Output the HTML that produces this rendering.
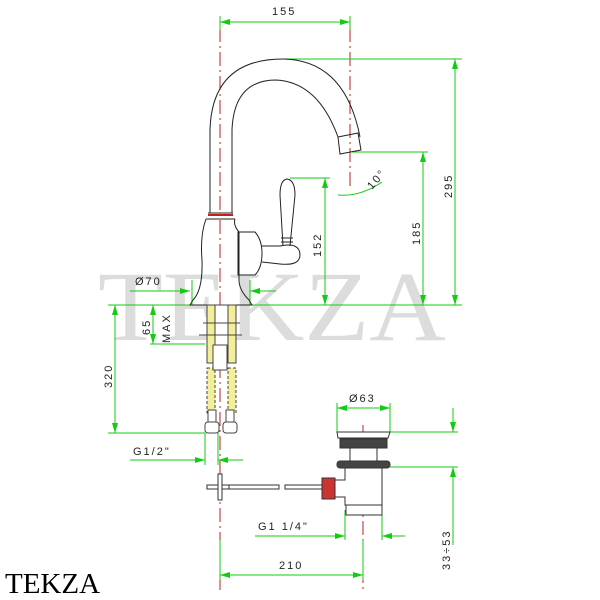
<!DOCTYPE html>
<html><head><style>
html,body{margin:0;padding:0;background:#fff;width:600px;height:600px;overflow:hidden}
svg{display:block}
text{font-family:"Liberation Sans",sans-serif;font-size:11px;fill:#222;letter-spacing:2px}
</style></head><body>
<svg width="600" height="600" viewBox="0 0 600 600">
<defs>
<marker id="a" viewBox="0 0 10 6" refX="10" refY="3" markerWidth="10" markerHeight="6" orient="auto-start-reverse"><path d="M0,0L10,3L0,6z" fill="#1c1"/></marker>
</defs>
<text x="98" y="340" textLength="348" lengthAdjust="spacingAndGlyphs" style="font-family:'Liberation Serif',serif;font-size:100px;fill:#dcdcdc;letter-spacing:0">TEKZA</text>
<g stroke="#b22" stroke-width="1" stroke-dasharray="14,4,2,4" fill="none">
<line x1="220" y1="28" x2="220" y2="590"/>
<line x1="350" y1="28" x2="350" y2="190"/>
<line x1="363" y1="425" x2="363" y2="590"/>
</g>
<g stroke="#1c1" stroke-width="1" fill="none">
<line x1="220" y1="22" x2="350" y2="22" marker-start="url(#a)" marker-end="url(#a)"/>
<line x1="220" y1="16" x2="220" y2="30"/><line x1="350" y1="16" x2="350" y2="30"/>
<line x1="283" y1="59" x2="462" y2="59"/>
<line x1="455" y1="59" x2="455" y2="305" marker-start="url(#a)" marker-end="url(#a)"/>
<line x1="180" y1="305" x2="462" y2="305"/>
<line x1="352" y1="152" x2="428" y2="152"/>
<line x1="423" y1="152" x2="423" y2="305" marker-start="url(#a)" marker-end="url(#a)"/>
<line x1="290" y1="178" x2="330" y2="178"/>
<line x1="325" y1="178" x2="325" y2="305" marker-start="url(#a)" marker-end="url(#a)"/>
<path d="M338,195 Q360,197 382,182"/>
<line x1="130" y1="291" x2="190" y2="291" marker-end="url(#a)"/>
<line x1="276" y1="291" x2="250" y2="291" marker-end="url(#a)"/>
<line x1="192" y1="280" x2="192" y2="305"/><line x1="250" y1="280" x2="250" y2="305"/>
<line x1="108" y1="305" x2="190" y2="305"/>
<line x1="115" y1="305" x2="115" y2="433" marker-start="url(#a)" marker-end="url(#a)"/>
<line x1="108" y1="433" x2="205" y2="433"/>
<line x1="153" y1="305" x2="153" y2="344" marker-start="url(#a)" marker-end="url(#a)"/>
<line x1="150" y1="344" x2="205" y2="344"/>
<line x1="130" y1="460" x2="205" y2="460" marker-end="url(#a)"/>
<line x1="243" y1="460" x2="218" y2="460" marker-end="url(#a)"/>
<line x1="205" y1="433" x2="205" y2="465"/><line x1="218" y1="433" x2="218" y2="465"/>
<line x1="337" y1="408" x2="390" y2="408" marker-start="url(#a)" marker-end="url(#a)"/>
<line x1="337" y1="403" x2="337" y2="432"/><line x1="390" y1="403" x2="390" y2="432"/>
<line x1="390" y1="432" x2="458" y2="432"/><line x1="390" y1="467" x2="458" y2="467"/>
<line x1="453" y1="408" x2="453" y2="432" marker-end="url(#a)"/>
<line x1="453" y1="545" x2="453" y2="467" marker-end="url(#a)"/>
<line x1="255" y1="536" x2="345" y2="536" marker-end="url(#a)"/>
<line x1="405" y1="536" x2="382" y2="536" marker-end="url(#a)"/>
<line x1="345" y1="510" x2="345" y2="540"/><line x1="382" y1="510" x2="382" y2="540"/>
<line x1="220" y1="575" x2="363" y2="575" marker-start="url(#a)" marker-end="url(#a)"/>
<line x1="220" y1="540" x2="220" y2="580"/><line x1="363" y1="540" x2="363" y2="580"/>
</g>
<g stroke="#222" stroke-width="1" fill="none">
<path d="M210,213 L210,130 Q212,59 283,59 Q345,60 360,137"/>
<path d="M232,213 L232,130 Q234,80 276,80 Q318,82 338,137"/>
<path d="M338,137 L358,133 L361,150 L340,154 Z"/>
<path d="M208,213 L233,213 M206,219 L235,219"/>
<path d="M206,219 Q200,235 202,260 Q203,290 193,300 L190,305 L252,305 L249,300 Q239,290 239,280 L239,232 Q233,225 235,219"/>
<path d="M238,232 L255,232 Q262,240 262,253 Q262,268 255,275 L238,275 Z"/>
<path d="M262,246 L280,246 Q300,242 300,255 Q300,266 280,264 L262,262"/>
<path d="M283,246 L280,195 Q280,180 287,179 Q295,180 295,195 L290,246"/>
<path d="M281,238 L293,238 M281,242 L293,242"/>
</g>
<line x1="208" y1="215" x2="233" y2="215" stroke="#b22" stroke-width="2"/>
<g stroke="#444" stroke-width="1">
<rect x="207" y="305" width="8" height="58" fill="#f3ee9a"/>
<rect x="228" y="305" width="8" height="58" fill="#f3ee9a"/>
<rect x="207" y="368" width="8" height="45" fill="#f3ee9a" stroke-dasharray="3,2"/>
<rect x="228" y="368" width="8" height="45" fill="#f3ee9a" stroke-dasharray="3,2"/>
<rect x="215" y="305" width="13" height="40" fill="#fff"/>
<rect x="213" y="345" width="14" height="25" fill="#fff"/>
<line x1="203" y1="323" x2="240" y2="323"/><line x1="199" y1="335" x2="242" y2="335"/>
<rect x="208" y="410" width="8" height="12" fill="#fff"/><rect x="226" y="410" width="8" height="12" fill="#fff"/>
<rect x="205" y="422" width="14" height="11" rx="3" fill="#fff"/><rect x="223" y="422" width="14" height="11" rx="3" fill="#fff"/>
</g>
<g stroke="#333" stroke-width="1" fill="#fff">
<rect x="207" y="485" width="22" height="4"/>
<rect x="218" y="474" width="4" height="26"/>
<rect x="229" y="485" width="50" height="4"/>
<rect x="285" y="485" width="38" height="4"/>
<rect x="322" y="478" width="13" height="21" fill="#c33"/>
<path d="M335,480 L345,480 L345,467 L382,467 L382,505 L345,505 L345,497 L335,497 Z"/>
<rect x="346" y="505" width="36" height="10"/>
<path d="M337,432 L390,432 L388,438 L338,438 Z"/>
<rect x="340" y="439" width="47" height="9" fill="#444"/>
<rect x="350" y="448" width="27" height="13"/>
<rect x="337" y="461" width="53" height="7" rx="3" fill="#444"/>
</g>
<text x="272" y="15">155</text>
<text x="135" y="285">Ø70</text>
<text x="349" y="402">Ø63</text>
<text x="133" y="455">G1/2"</text>
<text x="258" y="530">G1 1/4"</text>
<text x="279" y="569">210</text>
<text transform="translate(452,198) rotate(-90)">295</text>
<text transform="translate(420,245) rotate(-90)">185</text>
<text transform="translate(321,257) rotate(-90)">152</text>
<text transform="translate(112,388) rotate(-90)">320</text>
<text transform="translate(150,335) rotate(-90)">65</text>
<text transform="translate(170,343) rotate(-90)">MAX</text>
<text transform="translate(450,570) rotate(-90)">33÷53</text>
<text transform="translate(372,190) rotate(-50)">10°</text>
<text x="5" y="593" style="font-family:'Liberation Serif',serif;font-size:29px;fill:#000;letter-spacing:0">TEKZA</text>
</svg>
</body></html>
